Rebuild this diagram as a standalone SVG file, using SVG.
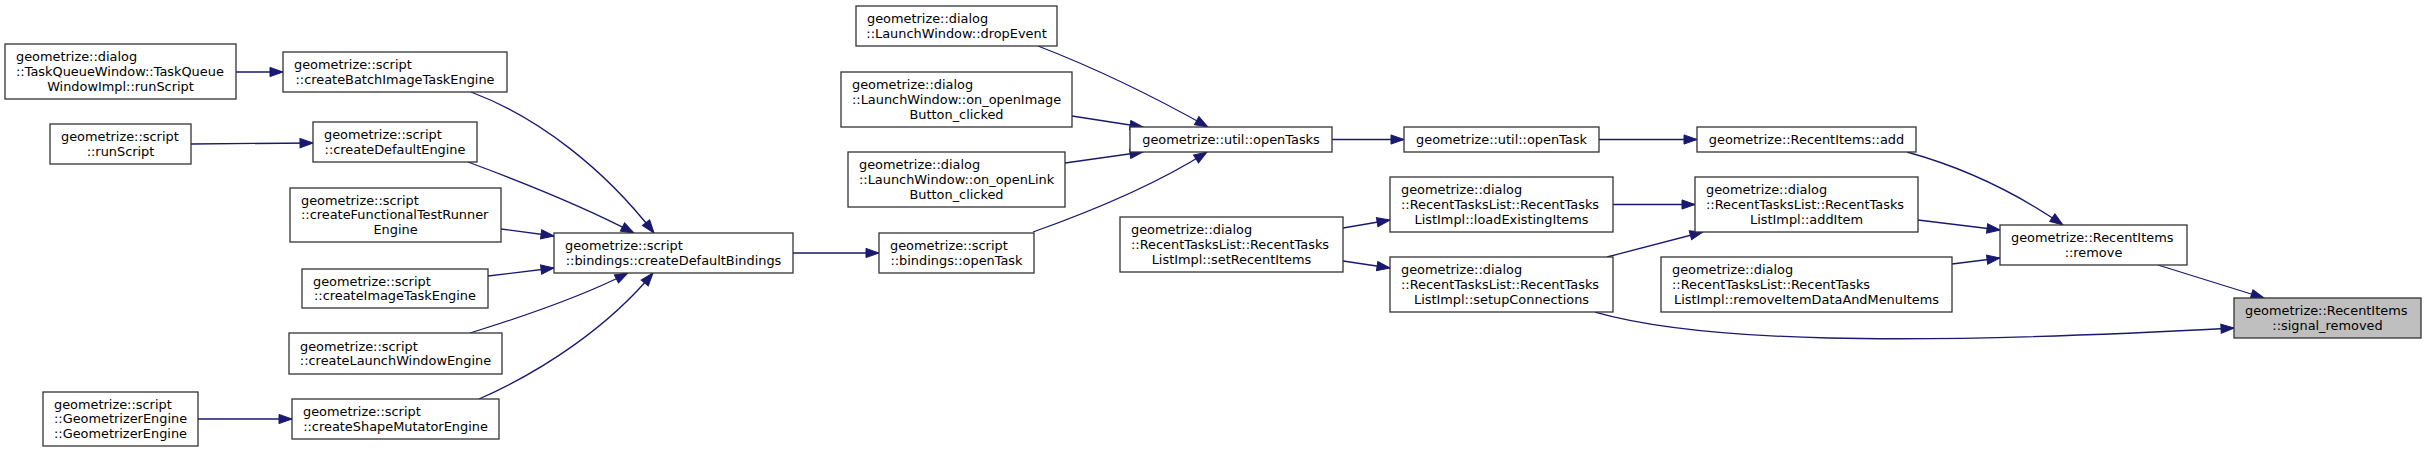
<svg xmlns="http://www.w3.org/2000/svg" width="2427" height="453" viewBox="0 0 2427 453">
<defs>
<style>
.n rect{fill:#ffffff;stroke:#333333;stroke-width:1.3}
.n.root rect{fill:#bfbfbf}
.n text{font-family:"DejaVu Sans",sans-serif;font-size:12.9px;fill:#000000}
.n text.c{text-anchor:middle}
.e path{fill:none;stroke:#191970;stroke-width:1.3;marker-end:url(#arr)}
</style>
<marker id="arr" viewBox="-14 -6 15 12" refX="0" refY="0" markerWidth="15" markerHeight="12" markerUnits="userSpaceOnUse" orient="auto">
<path d="M0,0 L-13,-4.6 L-13,4.6 Z" fill="#191970" stroke="#191970" stroke-width="1"/>
</marker>
</defs>
<rect width="2427" height="453" fill="#ffffff"/>
<g id="edges" class="e">
<path d="M236,72 L283,72"/>
<path d="M191,144 L313,143"/>
<path d="M198,419 L292,419"/>
<path d="M471,92 C540,118 605,170 654,233"/>
<path d="M468,162 C530,185 590,210 634,233"/>
<path d="M501,229 L554,236"/>
<path d="M488,276 L554,268"/>
<path d="M470,333 C525,316 585,295 628,273"/>
<path d="M479,399 C545,370 610,325 653,273"/>
<path d="M793,253 L879,253"/>
<path d="M1033,232 C1095,210 1160,182 1207,152"/>
<path d="M1038,46 C1100,70 1160,100 1208,127"/>
<path d="M1072,116 L1143,127"/>
<path d="M1065,163 L1143,152"/>
<path d="M1332,139.5 L1404,139.5"/>
<path d="M1599,139.5 L1697,139.5"/>
<path d="M1343,228 L1390,220"/>
<path d="M1343,261 L1390,268"/>
<path d="M1613,204.5 L1695,204.5"/>
<path d="M1607,257 L1703,232"/>
<path d="M1907,152 C1965,168 2015,192 2063,225"/>
<path d="M1918,220 L2000,230"/>
<path d="M1952,264 L2000,258"/>
<path d="M2158,265 L2264,298"/>
<path d="M1595,312 C1700,342 1900,346 2234,328"/>
</g>
<g id="taskQueueRunScript" class="n"><rect x="5" y="44" width="231" height="55"/><text x="16" y="61.2">geometrize::dialog</text><text x="16" y="75.9">::TaskQueueWindow::TaskQueue</text><text class="c" x="120.5" y="90.6">WindowImpl::runScript</text></g>
<g id="createBatchImageTaskEngine" class="n"><rect x="283" y="52" width="224" height="40"/><text x="294" y="69.05">geometrize::script</text><text class="c" x="395" y="83.75">::createBatchImageTaskEngine</text></g>
<g id="runScript" class="n"><rect x="50" y="124" width="141" height="40"/><text x="61" y="141.05">geometrize::script</text><text class="c" x="120.5" y="155.75">::runScript</text></g>
<g id="createDefaultEngine" class="n"><rect x="313" y="122" width="164" height="40"/><text x="324" y="139.05">geometrize::script</text><text class="c" x="395" y="153.75">::createDefaultEngine</text></g>
<g id="createFunctionalTestRunnerEngine" class="n"><rect x="290" y="188" width="211" height="54"/><text x="301" y="204.7">geometrize::script</text><text x="301" y="219.4">::createFunctionalTestRunner</text><text class="c" x="395.5" y="234.1">Engine</text></g>
<g id="createImageTaskEngine" class="n"><rect x="302" y="269" width="186" height="39"/><text x="313" y="285.55">geometrize::script</text><text class="c" x="395" y="300.25">::createImageTaskEngine</text></g>
<g id="createLaunchWindowEngine" class="n"><rect x="289" y="333" width="213" height="41"/><text x="300" y="350.55">geometrize::script</text><text class="c" x="395.5" y="365.25">::createLaunchWindowEngine</text></g>
<g id="geometrizerEngine" class="n"><rect x="43" y="392" width="155" height="54"/><text x="54" y="408.7">geometrize::script</text><text x="54" y="423.4">::GeometrizerEngine</text><text class="c" x="120.5" y="438.1">::GeometrizerEngine</text></g>
<g id="createShapeMutatorEngine" class="n"><rect x="292" y="399" width="207" height="40"/><text x="303" y="416.05">geometrize::script</text><text class="c" x="395.5" y="430.75">::createShapeMutatorEngine</text></g>
<g id="dropEvent" class="n"><rect x="856" y="6" width="201" height="40"/><text x="867" y="23.05">geometrize::dialog</text><text class="c" x="956.5" y="37.75">::LaunchWindow::dropEvent</text></g>
<g id="onOpenImageButtonClicked" class="n"><rect x="841" y="72" width="231" height="55"/><text x="852" y="89.2">geometrize::dialog</text><text x="852" y="103.9">::LaunchWindow::on_openImage</text><text class="c" x="956.5" y="118.6">Button_clicked</text></g>
<g id="onOpenLinkButtonClicked" class="n"><rect x="848" y="152" width="217" height="55"/><text x="859" y="169.2">geometrize::dialog</text><text x="859" y="183.9">::LaunchWindow::on_openLink</text><text class="c" x="956.5" y="198.6">Button_clicked</text></g>
<g id="createDefaultBindings" class="n"><rect x="554" y="233" width="239" height="40"/><text x="565" y="250.05">geometrize::script</text><text class="c" x="673.5" y="264.75">::bindings::createDefaultBindings</text></g>
<g id="bindingsOpenTask" class="n"><rect x="879" y="233" width="155" height="40"/><text x="890" y="250.05">geometrize::script</text><text class="c" x="956.5" y="264.75">::bindings::openTask</text></g>
<g id="utilOpenTasks" class="n"><rect x="1130" y="127" width="202" height="25"/><text class="c" x="1231" y="143.9">geometrize::util::openTasks</text></g>
<g id="utilOpenTask" class="n"><rect x="1404" y="127" width="195" height="25"/><text class="c" x="1501.5" y="143.9">geometrize::util::openTask</text></g>
<g id="recentItemsAdd" class="n"><rect x="1697" y="127" width="219" height="25"/><text class="c" x="1806.5" y="143.9">geometrize::RecentItems::add</text></g>
<g id="setRecentItems" class="n"><rect x="1120" y="217" width="223" height="55"/><text x="1131" y="234.2">geometrize::dialog</text><text x="1131" y="248.9">::RecentTasksList::RecentTasks</text><text class="c" x="1231.5" y="263.6">ListImpl::setRecentItems</text></g>
<g id="loadExistingItems" class="n"><rect x="1390" y="177" width="223" height="55"/><text x="1401" y="194.2">geometrize::dialog</text><text x="1401" y="208.9">::RecentTasksList::RecentTasks</text><text class="c" x="1501.5" y="223.6">ListImpl::loadExistingItems</text></g>
<g id="setupConnections" class="n"><rect x="1390" y="257" width="223" height="55"/><text x="1401" y="274.2">geometrize::dialog</text><text x="1401" y="288.9">::RecentTasksList::RecentTasks</text><text class="c" x="1501.5" y="303.6">ListImpl::setupConnections</text></g>
<g id="addItem" class="n"><rect x="1695" y="177" width="223" height="55"/><text x="1706" y="194.2">geometrize::dialog</text><text x="1706" y="208.9">::RecentTasksList::RecentTasks</text><text class="c" x="1806.5" y="223.6">ListImpl::addItem</text></g>
<g id="removeItemDataAndMenuItems" class="n"><rect x="1661" y="257" width="291" height="55"/><text x="1672" y="274.2">geometrize::dialog</text><text x="1672" y="288.9">::RecentTasksList::RecentTasks</text><text class="c" x="1806.5" y="303.6">ListImpl::removeItemDataAndMenuItems</text></g>
<g id="recentItemsRemove" class="n"><rect x="2000" y="225" width="187" height="40"/><text x="2011" y="242.05">geometrize::RecentItems</text><text class="c" x="2093.5" y="256.75">::remove</text></g>
<g id="signalRemoved" class="n root"><rect x="2234" y="298" width="187" height="40"/><text x="2245" y="315.05">geometrize::RecentItems</text><text class="c" x="2327.5" y="329.75">::signal_removed</text></g>
</svg>
